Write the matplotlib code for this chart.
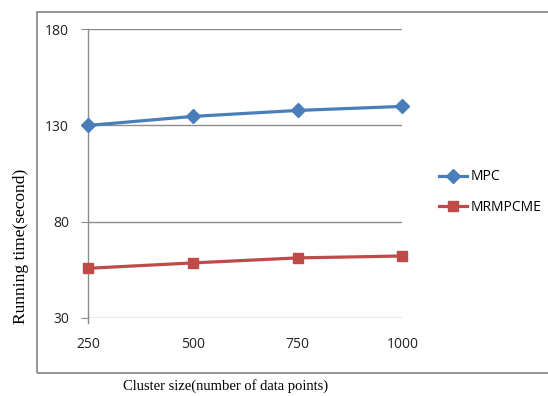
import matplotlib
matplotlib.use("Agg")
import matplotlib.pyplot as plt
from matplotlib.patches import Rectangle
from matplotlib.lines import Line2D

categories = ["250", "500", "750", "1000"]
mpc = [130.0, 134.7, 137.8, 139.9]
mrmpcme = [55.7, 58.5, 61.1, 62.1]
yticks = [30, 80, 130, 180]

W, H = 548, 396
fig = plt.figure(figsize=(W / 100, H / 100), dpi=100)

# outer chart frame
fig.patches.append(Rectangle((36.7 / W, 1 - 372.7 / H), (W + 10 - 36.7) / W, (372.7 - 12) / H,
                             transform=fig.transFigure, fill=False, edgecolor="#8c8c8c",
                             linewidth=1.3, clip_on=False))

ax = fig.add_axes([88.3 / W, 1 - 317.7 / H, (402.3 - 88.3) / W, (317.7 - 29.3) / H])
x = list(range(len(categories)))
ax.plot(x, mpc, color="#4A7EBB", linewidth=2.3, marker="D", markersize=7,
        markeredgecolor="#4A7EBB", label="MPC", zorder=3, clip_on=False)
ax.plot(x, mrmpcme, color="#BE4B48", linewidth=2.3, marker="s", markersize=7.5,
        markeredgecolor="#BE4B48", label="MRMPCME", zorder=3, clip_on=False)

ax.set_xlim(0, len(categories) - 1)
ax.set_ylim(30, 180)
ax.set_yticks(yticks)
ax.set_xticks(x)
ax.set_xticklabels(categories)
ax.grid(axis="y", color="#8c8c8c", linewidth=1.0)
ax.set_axisbelow(True)
for s in ["top", "right", "bottom"]:
    ax.spines[s].set_visible(False)
ax.spines["left"].set_color("#8c8c8c")
ax.spines["left"].set_linewidth(1.0)
ax.tick_params(axis="y", direction="out", length=5, color="#8c8c8c", pad=9,
               labelsize=10, labelcolor="#222222")
ax.tick_params(axis="x", length=0, pad=14, labelsize=10, labelcolor="#222222")
for lab in ax.get_xticklabels() + ax.get_yticklabels():
    lab.set_fontfamily("Open Sans")
# small extension of y axis below the bottom line
ax.plot([0, 0], [30, 27.3], color="#8c8c8c", linewidth=1.0, clip_on=False)

fig.text(21 / W, 1 - 246 / H, "Running time(second)", rotation=90, ha="center", va="center",
         fontsize=12.5, family="Liberation Serif")
fig.text(225.5 / W, 1 - 386 / H, "Cluster size(number of data points)", ha="center", va="center",
         fontsize=10.5, family="Liberation Serif")

handles = [Line2D([], [], color="#4A7EBB", linewidth=2.3, marker="D", markersize=7),
           Line2D([], [], color="#BE4B48", linewidth=2.3, marker="s", markersize=7.5)]
leg = fig.legend(handles, ["MPC", "MRMPCME"], loc="center left",
                 bbox_to_anchor=(439 / W, 1 - 192 / H), frameon=False,
                 handlelength=2.0, handletextpad=0.3, labelspacing=1.1,
                 prop={"family": "Open Sans", "size": 10}, borderaxespad=0, borderpad=0)

fig.savefig("out.png", dpi=100)
